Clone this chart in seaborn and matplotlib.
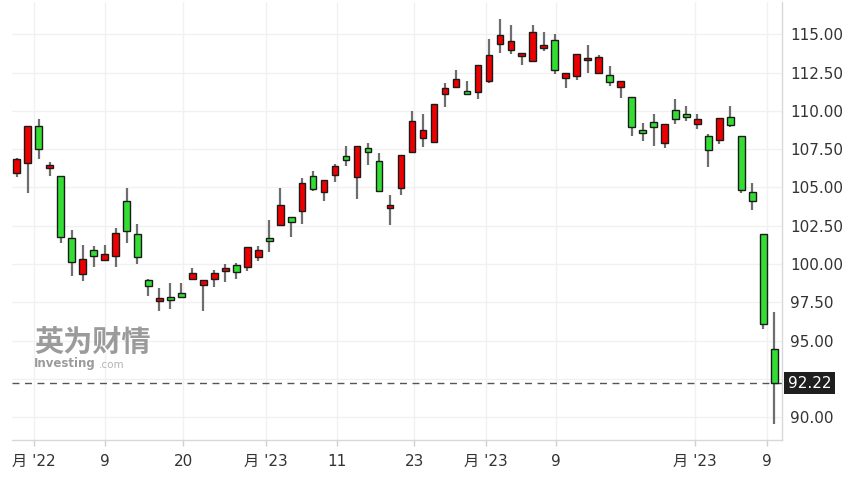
import matplotlib
matplotlib.use("Agg")
import matplotlib.pyplot as plt
import matplotlib.transforms as mtransforms
import seaborn as sns
import numpy as np

# ---- data ----
opens = [105.93, 106.58, 109.00, 106.27, 105.75, 101.72, 99.37, 100.90, 100.24, 100.54,
         104.14, 101.98, 98.93, 97.56, 97.84, 98.12, 99.00, 98.65, 99.00, 99.52,
         99.92, 99.80, 100.44, 101.72, 102.57, 103.07, 103.48, 105.77, 104.73, 105.84,
         107.06, 105.71, 107.56, 106.73, 103.66, 104.95, 107.34, 108.25, 107.97, 111.11,
         111.57, 111.33, 111.22, 111.96, 114.38, 114.00, 113.59, 113.29, 114.10, 114.64,
         112.14, 112.29, 113.30, 112.48, 112.33, 111.59, 110.90, 108.74, 109.26, 107.89,
         110.08, 109.78, 109.15, 108.37, 108.10, 109.61, 108.37, 104.69, 101.96, 94.42]
highs = [106.93, 109.00, 109.46, 106.65, 105.75, 102.22, 101.24, 101.18, 101.24, 102.33,
         104.95, 102.59, 99.02, 98.45, 98.74, 98.74, 99.72, 98.93, 99.61, 99.98,
         100.08, 101.11, 101.18, 102.88, 104.95, 103.07, 105.64, 106.10, 105.49, 106.54,
         107.71, 107.73, 107.89, 107.27, 104.51, 107.10, 110.00, 109.78, 110.44, 111.85,
         112.68, 111.96, 113.03, 114.71, 115.99, 115.62, 113.79, 115.62, 115.18, 115.03,
         112.50, 113.69, 114.31, 113.66, 112.94, 111.96, 110.90, 109.24, 109.78, 109.17,
         110.78, 110.33, 109.78, 108.50, 109.52, 110.33, 108.37, 105.27, 101.96, 96.86]
lows = [105.69, 104.62, 106.84, 105.77, 101.35, 99.22, 98.91, 99.82, 100.20, 99.82,
        101.35, 100.00, 97.93, 96.95, 97.04, 97.82, 99.00, 96.95, 98.50, 98.84,
        99.04, 99.56, 100.18, 100.80, 102.57, 101.78, 102.61, 104.79, 104.14, 105.38,
        106.41, 104.23, 106.47, 104.75, 102.55, 104.51, 107.34, 107.65, 107.97, 110.24,
        111.57, 111.13, 110.78, 111.81, 113.77, 113.71, 113.03, 113.29, 113.94, 112.42,
        111.50, 112.05, 112.50, 112.48, 111.65, 110.83, 108.37, 108.04, 107.73, 107.56,
        109.15, 109.37, 108.82, 106.32, 107.84, 108.93, 104.62, 103.53, 95.73, 89.52]
closes = [106.84, 109.00, 107.54, 106.47, 101.78, 100.15, 100.35, 100.54, 100.63, 102.05,
          102.14, 100.44, 98.54, 97.76, 97.65, 97.82, 99.39, 98.93, 99.39, 99.74,
          99.46, 101.11, 100.92, 101.52, 103.86, 102.76, 105.31, 104.90, 105.49, 106.41,
          106.80, 107.73, 107.34, 104.75, 103.88, 107.10, 109.37, 108.74, 110.44, 111.50,
          112.11, 111.13, 113.03, 113.66, 114.95, 114.58, 113.79, 115.18, 114.29, 112.68,
          112.50, 113.69, 113.48, 113.50, 111.88, 111.96, 108.97, 108.54, 108.97, 109.17,
          109.46, 109.61, 109.46, 107.45, 109.52, 109.07, 104.84, 104.12, 96.06, 92.22]
tick_labels = ["月 '22", "9", "20", "月 '23", "11", "23", "月 '23", "9", "月 '23", "9"]
tick_pos = [1.58, 8.04, 15.15, 22.7, 29.17, 36.2, 42.7, 49.1, 61.8, 68.3]
last_price = 92.22
y_ticks = [90.0, 92.5, 95.0, 97.5, 100.0, 102.5, 105.0, 107.5, 110.0, 112.5, 115.0]
y_tick_labels = ["90.00", "", "95.00", "97.50", "100.00", "102.50", "105.00",
                 "107.50", "110.00", "112.50", "115.00"]

# ---- style ----
sns.set_theme(style="white")
plt.rcParams['font.family'] = ['DejaVu Sans', 'Noto Sans CJK SC']

W, H = 852, 478
fig = plt.figure(figsize=(W / 100, H / 100), dpi=100)
fig.patch.set_facecolor("white")
left, right, top, bottom = 12, 782, 2, 440
ax = fig.add_axes([left / W, 1 - bottom / H, (right - left) / W, (bottom - top) / H])
ax.set_facecolor("white")

x = np.arange(len(opens))
o = np.array(opens); c = np.array(closes); h = np.array(highs); l = np.array(lows)
up = c >= o
red, green = "#ee0000", "#33dd33"

# wicks
ax.vlines(x, l, h, color="#6e6e6e", linewidth=1.6, zorder=2)
# bodies
body_bottom = np.minimum(o, c)
body_h = np.maximum(np.abs(c - o), 0.12)
colors = [red if u else green for u in up]
ax.bar(x, body_h, bottom=body_bottom, width=0.6, color=colors,
       edgecolor="#1a1a1a", linewidth=1.0, zorder=3)

# last price dashed line
ax.axhline(last_price, color="#555555", linewidth=1.0, linestyle=(0, (5, 4)), zorder=1)
trans = mtransforms.blended_transform_factory(ax.transAxes, ax.transData)
ax.text(1.008, last_price, f"{last_price:.2f}", transform=trans, ha="left", va="center",
        fontsize=11, color="white", zorder=5, clip_on=False,
        bbox=dict(boxstyle="square,pad=0.25", facecolor="#1e1e1e", edgecolor="none"))

ax.set_xlim(-0.43, 69.7)
ax.set_ylim(88.5, 117.12)

ax.set_yticks(y_ticks)
ax.set_yticklabels(y_tick_labels)
ax.yaxis.tick_right()
ax.set_xticks(tick_pos)
ax.set_xticklabels(tick_labels)

ax.tick_params(axis="y", length=0, pad=6, labelsize=11, labelcolor="#333333")
ax.tick_params(axis="x", length=4, width=1, color="#d0d0d0", pad=6, labelsize=11,
               labelcolor="#333333", bottom=True)

ax.grid(True, color="#f1f1f1", linewidth=1.0, zorder=0)
ax.set_axisbelow(True)
for s in ["top", "left"]:
    ax.spines[s].set_visible(False)
for s in ["right", "bottom"]:
    ax.spines[s].set_visible(True)
    ax.spines[s].set_color("#d8d8d8")
    ax.spines[s].set_linewidth(1.0)

# watermark
fig.text(34 / W, 1 - 342 / H, "英为财情", fontsize=21, fontweight="bold",
         color="#7a7a7a", alpha=0.75, ha="left", va="center",
         family=['Noto Sans CJK SC', 'DejaVu Sans'], zorder=0)
fig.text(34 / W, 1 - 364 / H, "Investing", fontsize=8.5, fontweight="bold",
         color="#7a7a7a", alpha=0.75, ha="left", va="center")
fig.text(99 / W, 1 - 365 / H, ".com", fontsize=7.5,
         color="#9a9a9a", alpha=0.75, ha="left", va="center")

fig.savefig("out.png", dpi=100, facecolor="white")
